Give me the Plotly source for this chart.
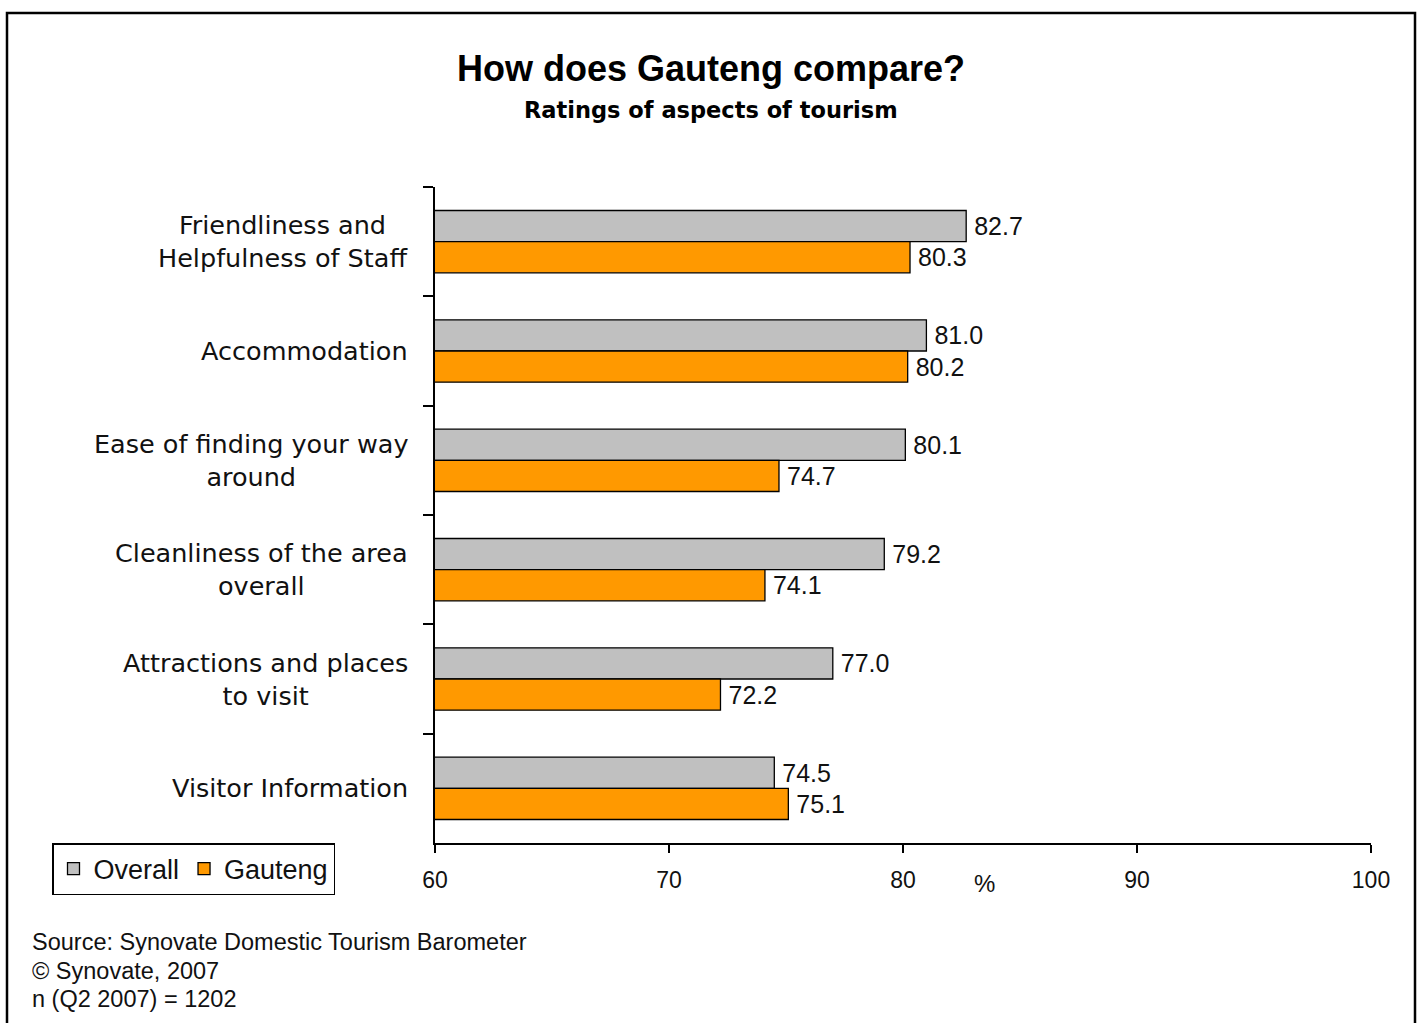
import plotly.graph_objects as go

categories = [
    "Friendliness and<br>Helpfulness of Staff",
    "Accommodation",
    "Ease of finding your way<br>around",
    "Cleanliness of the area<br>overall",
    "Attractions and places<br>to visit",
    "Visitor Information",
]
overall = [82.7, 81.0, 80.1, 79.2, 77.0, 74.5]
gauteng = [80.3, 80.2, 74.7, 74.1, 72.2, 75.1]
x_ticks = [60, 70, 80, 90, 100]
source_lines = [
    "Source: Synovate Domestic Tourism Barometer",
    "© Synovate, 2007",
    "n (Q2 2007) = 1202",
]

W, H = 1421, 1023
L, R, T, B = 435, 1371, 187, 843


def px_x(px):
    return (px - L) / (R - L)


def px_y(py):
    return (B - py) / (B - T)


fig = go.Figure()
fig.add_trace(go.Bar(
    y=categories, x=overall, name="Overall", orientation="h",
    marker=dict(color="#C0C0C0", line=dict(color="#000000", width=1.3)),
    texttemplate="\u2009%{x:.1f}", textposition="outside", cliponaxis=False,
    constraintext="none",
    textfont=dict(family="Liberation Sans", size=25, color="#111111"),
))
fig.add_trace(go.Bar(
    y=categories, x=gauteng, name="Gauteng", orientation="h",
    marker=dict(color="#FF9900", line=dict(color="#000000", width=1.3)),
    texttemplate="\u2009%{x:.1f}", textposition="outside", cliponaxis=False,
    constraintext="none",
    textfont=dict(family="Liberation Sans", size=25, color="#111111"),
))

annotations = []
for c in categories:
    annotations.append(dict(
        x=px_x(410), xref="paper", y=c, yref="y", text=c, showarrow=False,
        xanchor="right", yanchor="middle", align="center",
        font=dict(family="DejaVu Sans", size=25.5, color="#111111"),
    ))
annotations.append(dict(
    x=px_x(711), xref="paper", y=px_y(68), yref="paper",
    text="<b>How does Gauteng compare?</b>", showarrow=False,
    xanchor="center", yanchor="middle",
    font=dict(family="Liberation Sans", size=36, color="#000000"),
))
annotations.append(dict(
    x=px_x(711), xref="paper", y=px_y(110), yref="paper",
    text="<b>Ratings of aspects of tourism</b>", showarrow=False,
    xanchor="center", yanchor="middle",
    font=dict(family="DejaVu Sans", size=22.5, color="#000000"),
))
annotations.append(dict(
    x=83.5, xref="x", y=px_y(883), yref="paper", text="%", showarrow=False,
    xanchor="center", yanchor="middle",
    font=dict(family="Liberation Sans", size=24, color="#111111"),
))
for i, line in enumerate(source_lines):
    annotations.append(dict(
        x=px_x(30), xref="paper", y=px_y(942 + 28.5 * i), yref="paper",
        text=line, showarrow=False, xanchor="left", yanchor="middle",
        font=dict(family="Liberation Sans", size=23.5, color="#111111"),
    ))

fig.update_layout(
    width=W, height=H,
    margin=dict(l=L, r=W - R, t=T, b=H - B),
    paper_bgcolor="white", plot_bgcolor="white",
    barmode="group", bargap=0.43, bargroupgap=0,
    showlegend=True,
    legend=dict(
        orientation="h", x=px_x(52), y=px_y(843), xanchor="left", yanchor="top",
        bordercolor="#000000", borderwidth=1.5, bgcolor="white",
        font=dict(family="Liberation Sans", size=27, color="#111111"),
        traceorder="normal",
    ),
    xaxis=dict(
        range=[60, 100], tickvals=x_ticks, ticks="outside", ticklen=8,
        tickcolor="#000000", tickwidth=1.5, showline=True, linecolor="#000000",
        linewidth=1.5, showgrid=False, zeroline=False, ticklabelstandoff=8,
        tickfont=dict(family="Liberation Sans", size=23, color="#111111"),
    ),
    yaxis=dict(
        type="category", categoryorder="array", categoryarray=categories,
        range=[5.5, -0.5], ticks="outside", tickson="boundaries", ticklen=10,
        tickcolor="#000000", tickwidth=1.5, showline=True, linecolor="#000000",
        linewidth=1.5, showgrid=False, showticklabels=False,
    ),
    annotations=annotations,
    shapes=[dict(
        type="rect", xref="paper", yref="paper",
        x0=px_x(7), x1=px_x(1415), y0=px_y(1035), y1=px_y(13),
        line=dict(color="#000000", width=2.5),
    )],
)

fig.write_html("out.html")
